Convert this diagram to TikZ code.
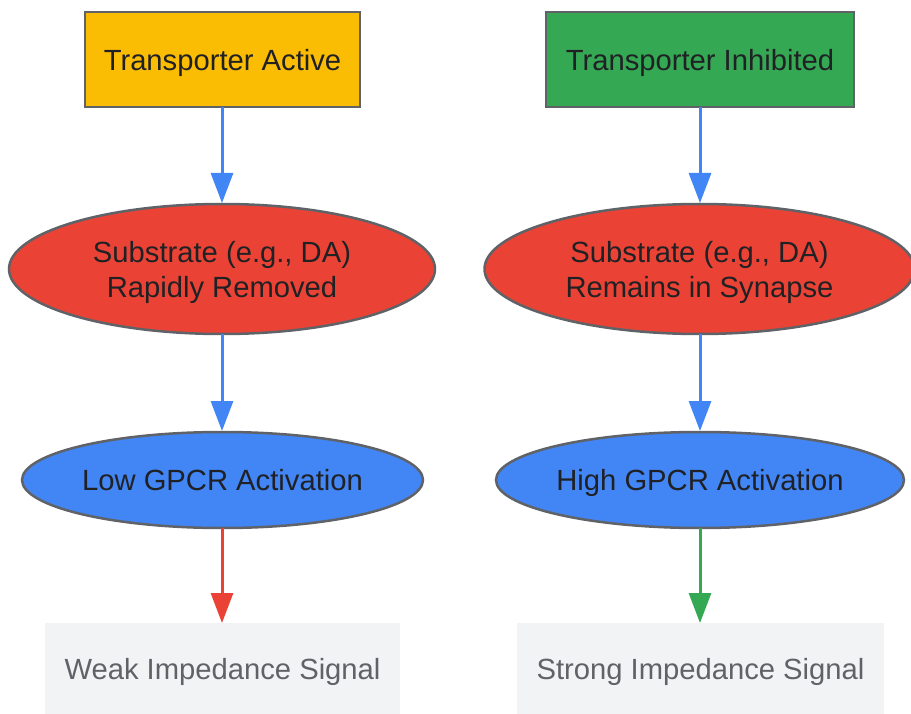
\documentclass[tikz,border=0pt]{standalone}
\usepackage{fontspec}
\setmainfont{Liberation Sans}
\usetikzlibrary{shapes.geometric,arrows.meta}
\definecolor{cyel}{HTML}{FBBC04}
\definecolor{cgrn}{HTML}{34A853}
\definecolor{cred}{HTML}{EA4335}
\definecolor{cblu}{HTML}{4285F4}
\definecolor{cgry}{HTML}{F1F3F4}
\definecolor{cbord}{HTML}{5F6368}
\definecolor{ctxt}{HTML}{202124}
\tikzset{
  base/.style={font=\fontsize{29.2}{35}\selectfont, text=ctxt, align=center, inner sep=0pt, outer sep=0pt, text depth=-2pt},
  boxnode/.style={base, rectangle, draw=cbord, line width=2.5pt},
  ellnode/.style={base, ellipse, draw=cbord, line width=2.5pt},
  signode/.style={base, rectangle, fill=cgry, text=cbord, text depth=-5pt},
  conn/.style={line width=3pt, -{Triangle[length=30pt,width=22pt]}},
}
\begin{document}
\begin{tikzpicture}[x=1pt,y=-1pt]
\useasboundingbox (0,0) rectangle (911,714);
\node[boxnode, fill=cyel, minimum width=275pt, minimum height=95pt] (A) at (222.5,59.5) {Transporter Active};
\node[boxnode, fill=cgrn, minimum width=308pt, minimum height=95pt] (B) at (700,59.5) {Transporter Inhibited};
\node[ellnode, fill=cred, minimum width=426pt, minimum height=130pt] (C) at (222,269) {Substrate (e.g., DA)\\Rapidly Removed};
\node[ellnode, fill=cred, minimum width=430pt, minimum height=130pt] (D) at (699.5,269) {Substrate (e.g., DA)\\Remains in Synapse};
\node[ellnode, fill=cblu, minimum width=401pt, minimum height=96pt] (E) at (222.5,480) {Low GPCR Activation};
\node[ellnode, fill=cblu, minimum width=408pt, minimum height=96pt] (F) at (700,480) {High GPCR Activation};
\node[signode, minimum width=355pt, minimum height=91pt] (G) at (222.5,668.5) {Weak Impedance Signal};
\node[signode, minimum width=367pt, minimum height=91pt] (H) at (700.5,668.5) {Strong Impedance Signal};
\draw[conn, draw=cblu, fill=cblu] (A.south -| 222,0) -- (222,203);
\draw[conn, draw=cblu, fill=cblu] (B.south -| 700,0) -- (700,203);
\draw[conn, draw=cblu, fill=cblu] (C.south -| 222,0) -- (222,431);
\draw[conn, draw=cblu, fill=cblu] (D.south -| 700,0) -- (700,431);
\draw[conn, draw=cred, fill=cred] (E.south -| 222,0) -- (G.north -| 222,0);
\draw[conn, draw=cgrn, fill=cgrn] (F.south -| 700,0) -- (H.north -| 700,0);
\end{tikzpicture}
\end{document}
